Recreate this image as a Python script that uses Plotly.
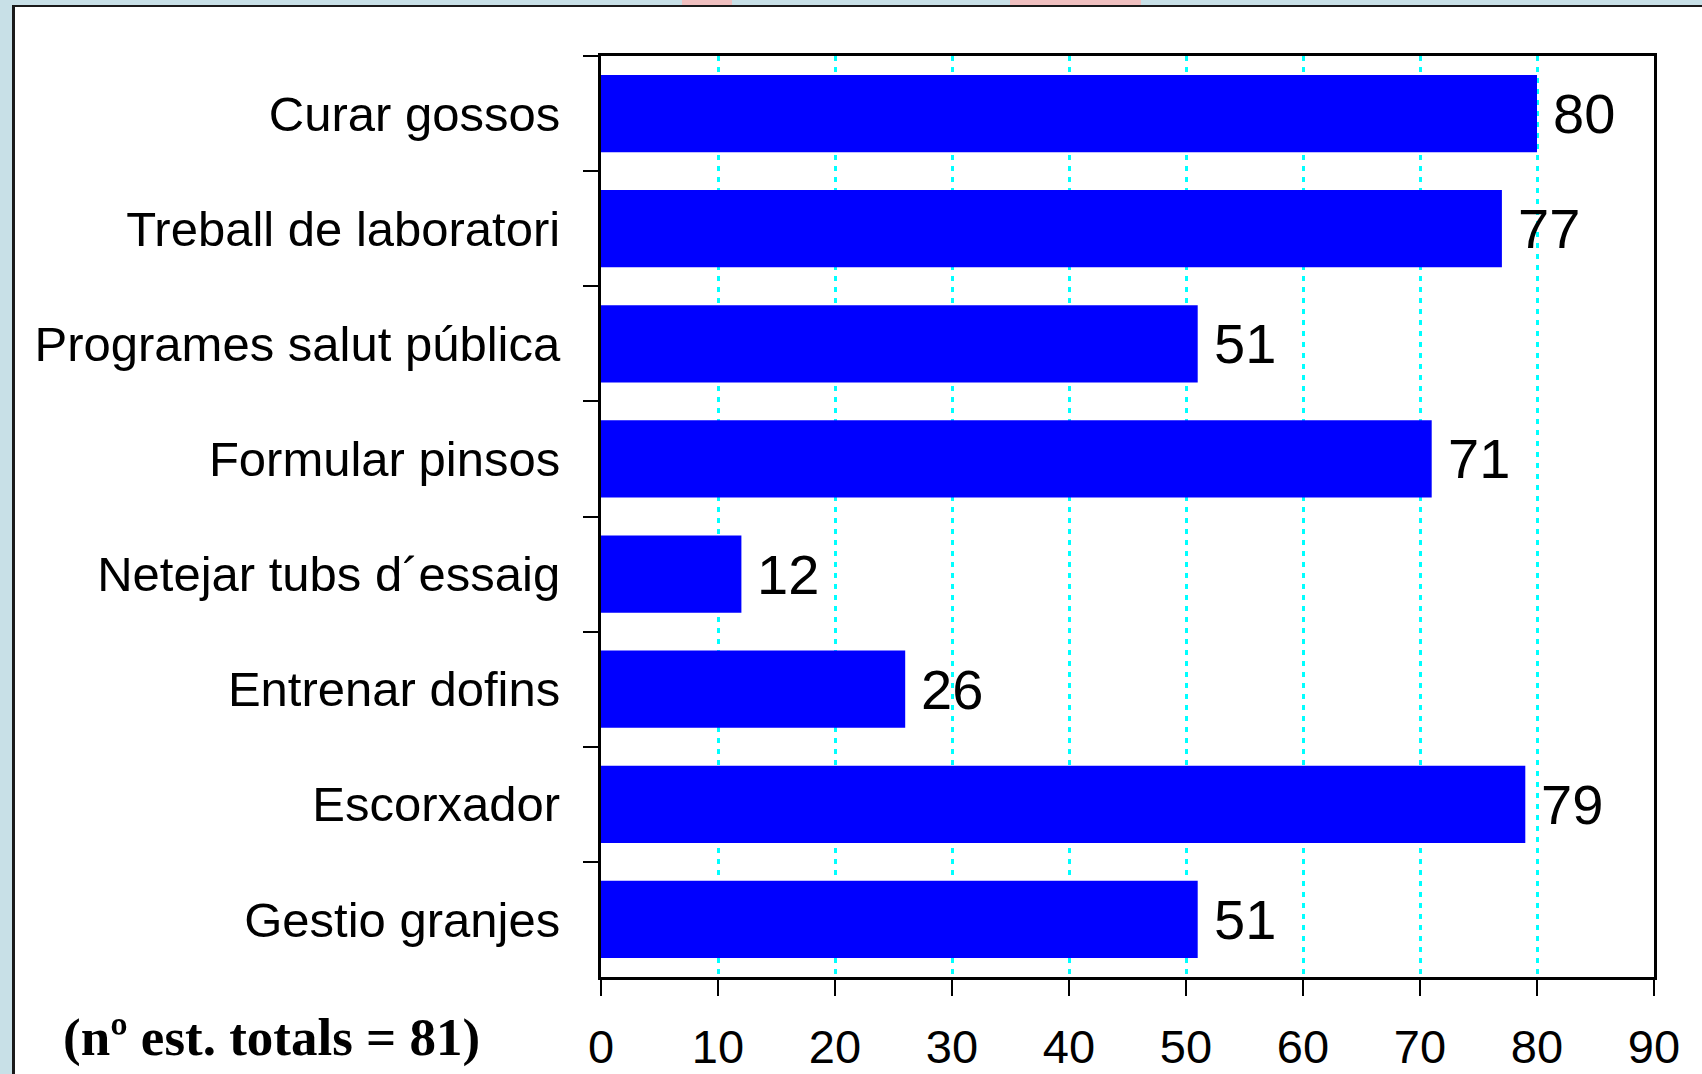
import plotly.graph_objects as go

categories = ["Curar gossos", "Treball de laboratori", "Programes salut pública",
              "Formular pinsos", "Netejar tubs d´essaig", "Entrenar dofins",
              "Escorxador", "Gestio granjes"]
values = [80, 77, 51, 71, 12, 26, 79, 51]
x_ticks = [0, 10, 20, 30, 40, 50, 60, 70, 80, 90]
note = "(nº est. totals = 81)"

W, H = 1702, 1074
ML, MR, MT, MB = 601, 48, 56, 97
PW, PH = W - ML - MR, H - MT - MB

def px(x):
    return (x - ML) / PW

def py(y):
    return (H - MB - y) / PH

fig = go.Figure()
fig.add_trace(go.Bar(
    x=values, y=categories, orientation="h",
    marker=dict(color="#0000FF", line=dict(width=0)),
    hoverinfo="x+y",
))

annotations = []
for c, v in zip(categories, values):
    annotations.append(dict(
        x=v, y=c, xref="x", yref="y", text=str(v), showarrow=False,
        xanchor="left", yanchor="middle", xshift=14,
        font=dict(family="Liberation Sans, Arial, sans-serif", size=56, color="black"),
    ))
annotations.append(dict(
    x=px(271), y=py(1037), xref="paper", yref="paper", text="<b>" + note + "</b>",
    showarrow=False, xanchor="center", yanchor="middle",
    font=dict(family="Liberation Serif, Times New Roman, serif", size=53, color="black"),
))

lightblue = "#C8E0E7"
pink = "#F0C0C0"
shapes = [
    dict(type="rect", xref="paper", yref="paper", x0=px(0), x1=px(W), y0=py(0), y1=py(5),
         fillcolor=lightblue, line=dict(width=0), layer="below"),
    dict(type="rect", xref="paper", yref="paper", x0=px(0), x1=px(12), y0=py(0), y1=py(H),
         fillcolor=lightblue, line=dict(width=0), layer="below"),
    dict(type="rect", xref="paper", yref="paper", x0=px(682), x1=px(732), y0=py(0), y1=py(5),
         fillcolor=pink, line=dict(width=0), layer="below"),
    dict(type="rect", xref="paper", yref="paper", x0=px(1010), x1=px(1141), y0=py(0), y1=py(5),
         fillcolor=pink, line=dict(width=0), layer="below"),
    dict(type="line", xref="paper", yref="paper", x0=px(12), x1=px(W), y0=py(6), y1=py(6),
         line=dict(color="#1A1A1A", width=2)),
    dict(type="line", xref="paper", yref="paper", x0=px(13.5), x1=px(13.5), y0=py(5), y1=py(H),
         line=dict(color="#1A1A1A", width=3)),
]

fig.update_layout(
    width=W, height=H,
    margin=dict(l=ML, r=MR, t=MT, b=MB, autoexpand=False),
    paper_bgcolor="white", plot_bgcolor="white",
    bargap=0.33,
    showlegend=False,
    annotations=annotations,
    shapes=shapes,
    font=dict(family="Liberation Sans, Arial, sans-serif", color="black"),
)
fig.update_xaxes(
    range=[0, 90], tickvals=x_ticks, ticktext=[str(t) for t in x_ticks],
    showgrid=True, gridcolor="#00FFFF", gridwidth=2.5, griddash="5px,6px",
    zeroline=False, automargin=False,
    showline=True, linecolor="black", linewidth=3, mirror=True,
    ticks="outside", ticklen=16, tickwidth=2, tickcolor="black",
    tickfont=dict(size=47, color="black"), ticklabelstandoff=11,
)
fig.update_yaxes(
    autorange="reversed", showgrid=False, zeroline=False, automargin=False,
    showline=True, linecolor="black", linewidth=3, mirror=True,
    ticks="outside", ticklen=15, tickwidth=2, tickcolor="black", tickson="boundaries",
    tickfont=dict(size=49, color="black"), ticklabelstandoff=28,
)

fig.write_html("out.html", config={"displayModeBar": False},
               post_script="document.body.style.margin='0';document.body.style.overflow='hidden';")
